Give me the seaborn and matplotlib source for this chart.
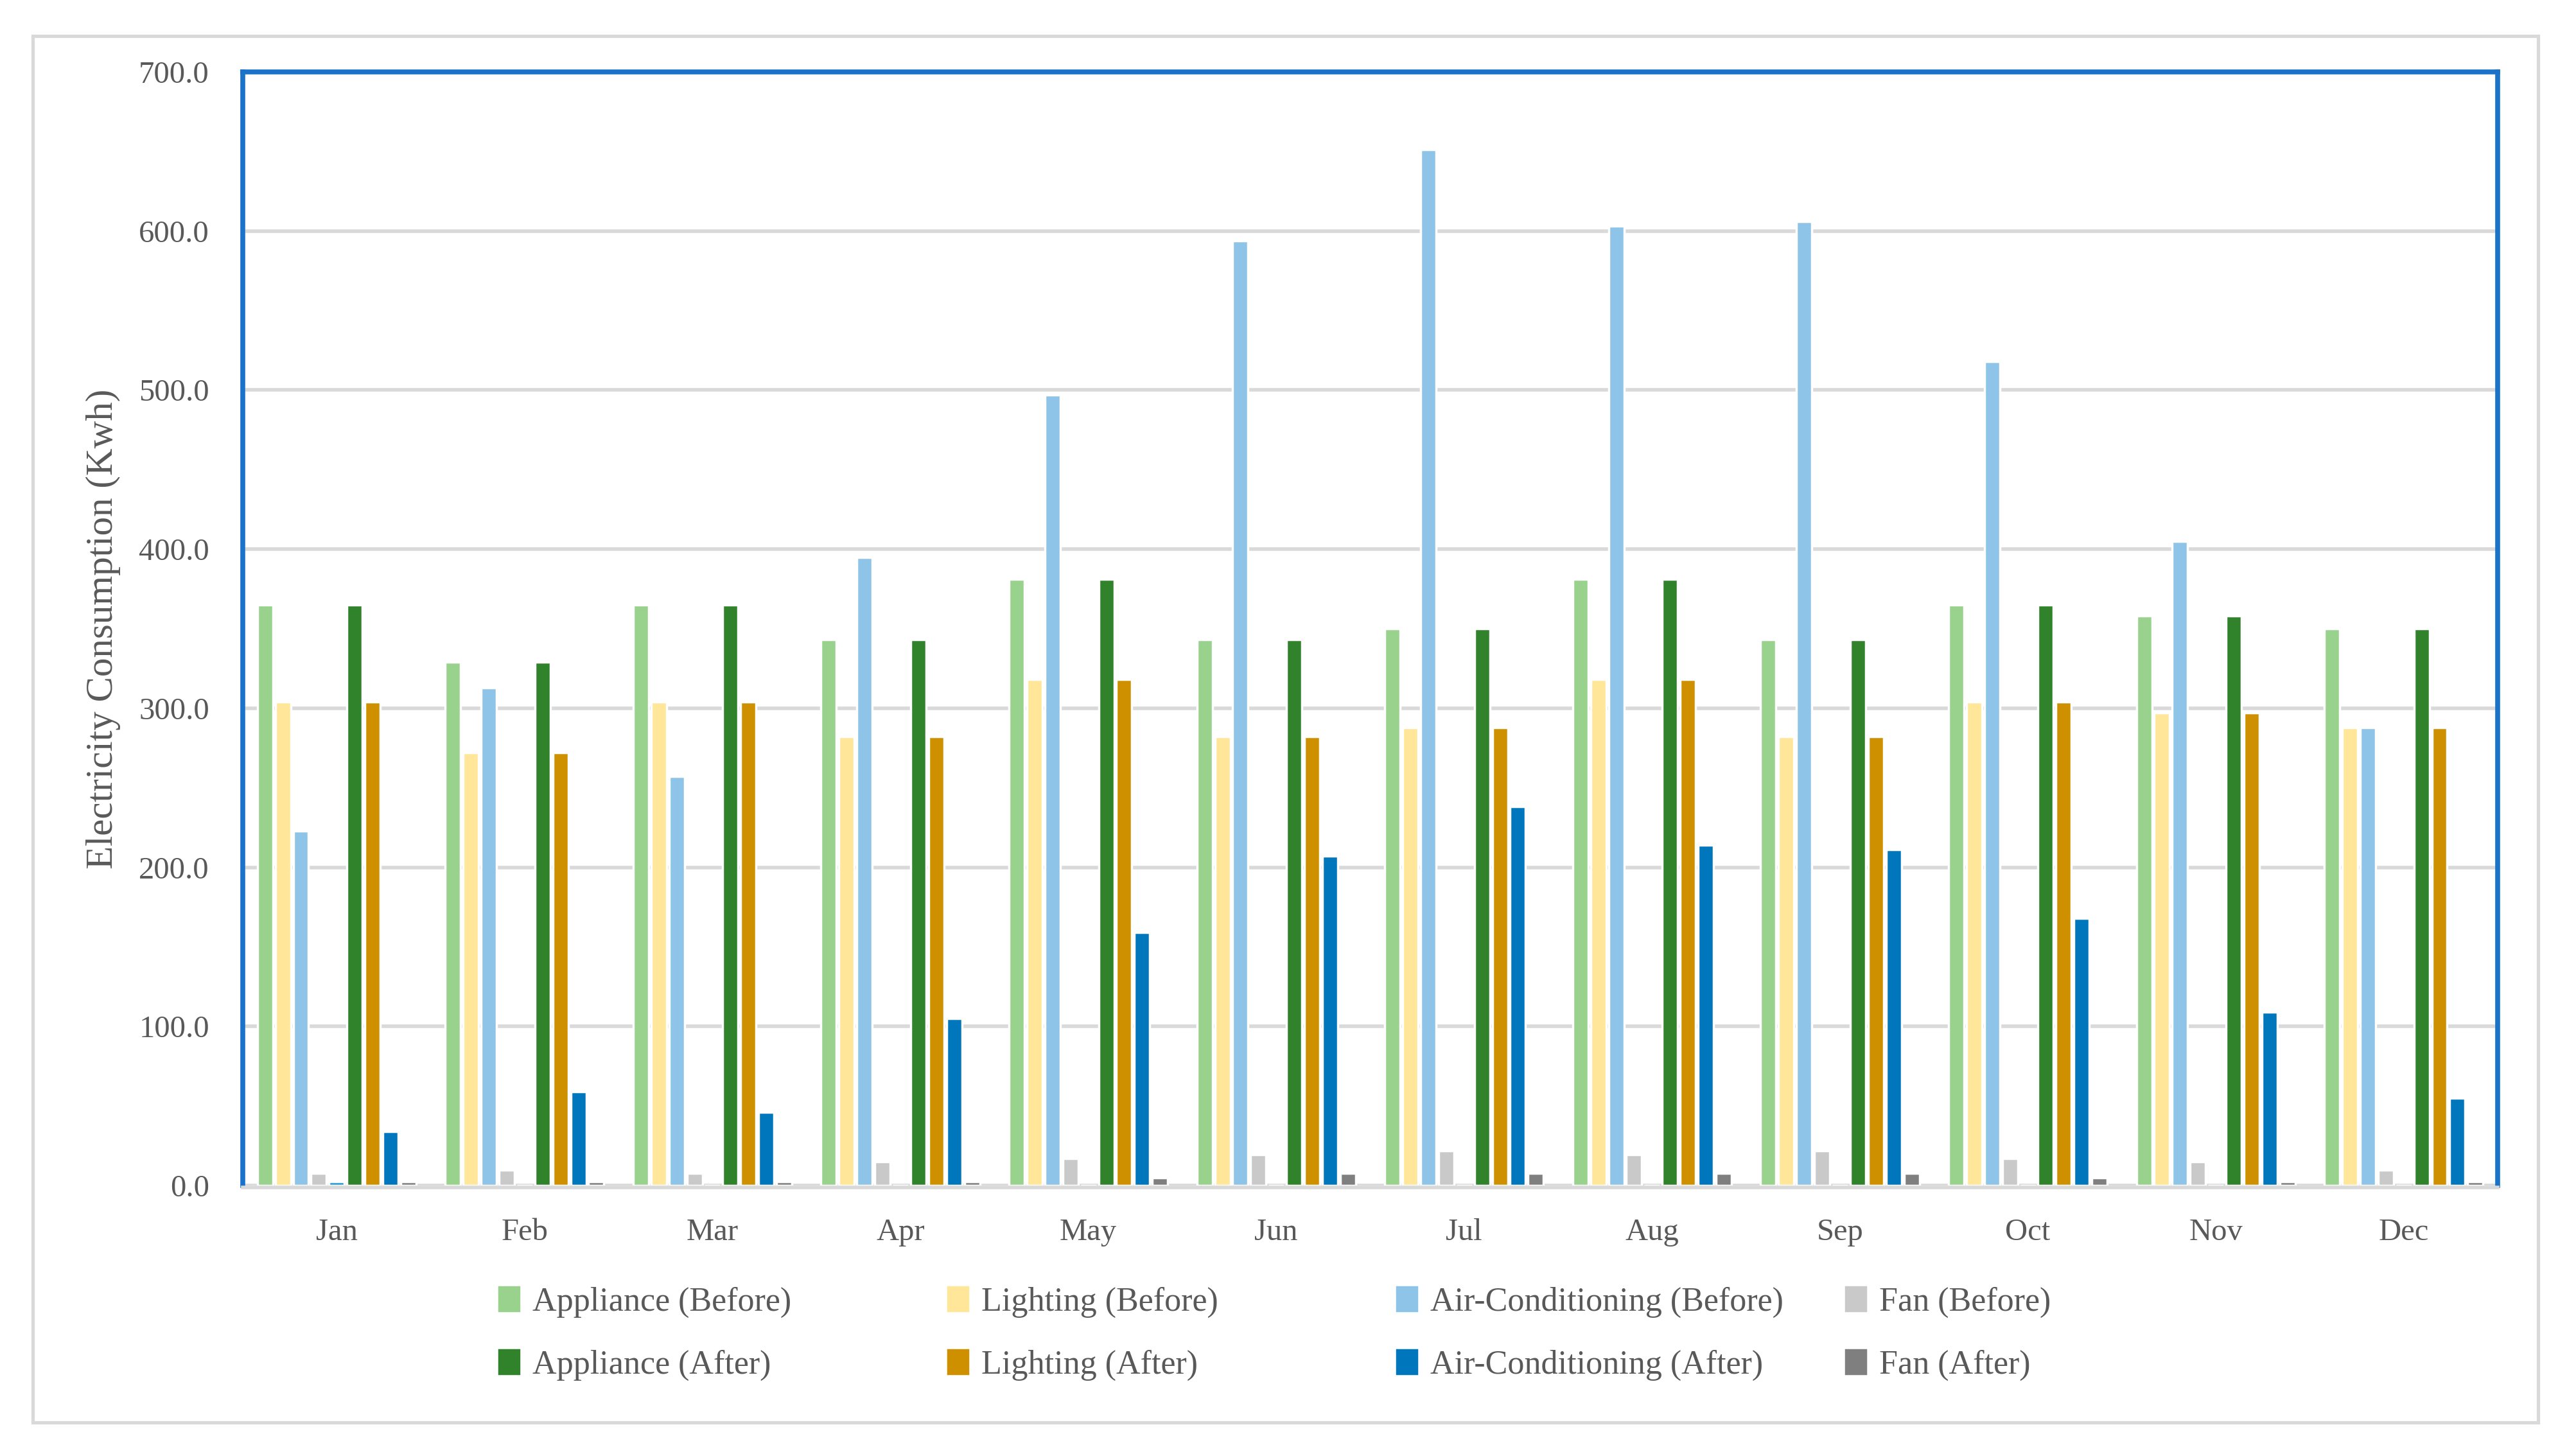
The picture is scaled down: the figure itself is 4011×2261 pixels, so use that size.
import numpy as np
import pandas as pd
import matplotlib
matplotlib.use("Agg")
import matplotlib.pyplot as plt
import matplotlib.patches as mpatches
import seaborn as sns

# data (kWh per month)
months = ['Jan', 'Feb', 'Mar', 'Apr', 'May', 'Jun', 'Jul', 'Aug', 'Sep', 'Oct', 'Nov', 'Dec']
appliance_before = [365, 329, 365, 343, 381, 343, 350, 381, 343, 365, 358, 350]
lighting_before = [304, 272, 304, 282, 318, 282, 288, 318, 282, 304, 297, 288]
ac_before = [223, 313, 257, 395, 497, 594, 651, 603, 606, 518, 405, 288]
fan_before = [7.5, 9.5, 7.5, 15, 17, 19.5, 22, 19.5, 22, 17, 15, 9.5]
# small unlabelled series that only shows up in January
unlabelled = [2.5, 0, 0, 0, 0, 0, 0, 0, 0, 0, 0, 0]
appliance_after = [365, 329, 365, 343, 381, 343, 350, 381, 343, 365, 358, 350]
lighting_after = [304, 272, 304, 282, 318, 282, 288, 318, 282, 304, 297, 288]
ac_after = [34, 59, 46, 105, 159, 207, 238, 214, 211, 168, 109, 55]
fan_after = [2.5, 2.5, 2.5, 2.5, 5, 7.5, 7.5, 7.5, 7.5, 5, 2.5, 2.5]

series_names = ['Appliance (Before)', 'Lighting (Before)', 'Air-Conditioning (Before)', 'Fan (Before)',
                'Unlabelled', 'Appliance (After)', 'Lighting (After)', 'Air-Conditioning (After)', 'Fan (After)']
series_values = [appliance_before, lighting_before, ac_before, fan_before, unlabelled,
                 appliance_after, lighting_after, ac_after, fan_after]
series_colors = ['#99d28c', '#ffe699', '#8ec4e7', '#c9c9c9', '#1f9bd7',
                 '#30832a', '#cf9000', '#0077bc', '#7f7f7f']

rows = []
for name, vals in zip(series_names, series_values):
    for m, v in zip(months, vals):
        rows.append({'month': m, 'series': name, 'kwh': v})
df = pd.DataFrame(rows)

sns.set_style("white")
plt.rcParams['font.family'] = ['Liberation Serif', 'DejaVu Serif']
text_col = '#595959'
grid_col = '#d9d9d9'

fig = plt.figure(figsize=(4011 / 250, 2261 / 250), dpi=250)
ax = fig.add_axes([378 / 4011, 1 - 1846 / 2261, (3889 - 378) / 4011, (1846 - 112) / 2261])

sns.barplot(data=df, x='month', y='kwh', hue='series', hue_order=series_names,
            order=months, palette=series_colors, saturation=1, errorbar=None,
            width=0.858, gap=0.14, legend=False, ax=ax)

ax.set_ylim(0, 700)
ax.set_yticks(np.arange(0, 701, 100))
ax.set_yticklabels([f'{t:.1f}' for t in np.arange(0, 701, 100)])
ax.yaxis.grid(True, color=grid_col, linewidth=1.6)
ax.set_axisbelow(True)
ax.tick_params(axis='both', length=0, labelsize=14, colors=text_col)
ax.tick_params(axis='y', pad=15)
ax.tick_params(axis='x', pad=14)

ax.set_xlabel('')
ax.set_ylabel('Electricity Consumption (Kwh)', fontsize=17, color=text_col)
ax.yaxis.set_label_coords(-0.054, 0.5)

for side in ['left', 'top', 'right']:
    ax.spines[side].set_color('#1a73c8')
    ax.spines[side].set_linewidth(2.2)
# horizontal axis line sits just under the bar bottoms
ax.spines['bottom'].set_color(grid_col)
ax.spines['bottom'].set_linewidth(1.6)
ax.spines['bottom'].set_position(('outward', 0.8))

# outer chart border
fig.patches.append(mpatches.Rectangle((51 / 4011, 1 - 2215 / 2261), (3952 - 51) / 4011, (2215 - 56) / 2261,
                                      transform=fig.transFigure, fill=False,
                                      edgecolor=grid_col, linewidth=1.5))

# legend: four evenly spaced columns, before row on top and after row below
col_x = [777, 1476, 2175, 2874]
pairs = [(0, 5), (1, 6), (2, 7), (3, 8)]
for x, (i, j) in zip(col_x, pairs):
    handles = [mpatches.Patch(color=series_colors[k], label=series_names[k]) for k in (i, j)]
    leg = fig.legend(handles=handles, loc='center left', bbox_to_anchor=(x / 4011, 1 - 2077 / 2261),
                     frameon=False, fontsize=15, borderpad=0, borderaxespad=0,
                     handlelength=0.6, handleheight=0.72, handletextpad=0.4, labelspacing=0.95)
    for t in leg.get_texts():
        t.set_color(text_col)

fig.savefig('out.png', dpi=250)
